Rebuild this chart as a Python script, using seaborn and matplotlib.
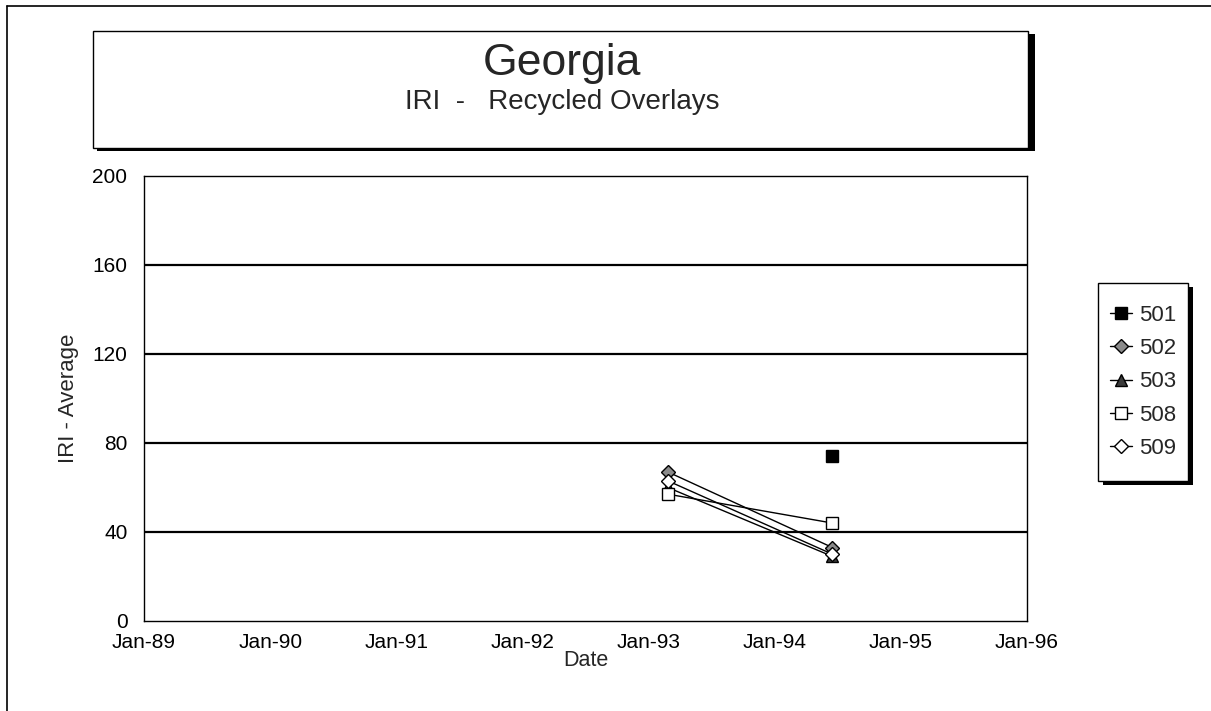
import pandas as pd
import matplotlib.pyplot as plt
import matplotlib.dates as mdates
import seaborn as sns
from matplotlib.patches import Rectangle
from matplotlib.lines import Line2D

plt.switch_backend('Agg')

# dane
sections = ['501', '502', '503', '508', '509']
dates = ['1993-02-25', '1994-06-17']
iri_501 = [None, 74]
iri_502 = [67, 33]
iri_503 = [60, 29]
iri_508 = [57, 44]
iri_509 = [63, 30]

markers = {'501': 's', '502': 'D', '503': '^', '508': 's', '509': 'D'}
faces = {'501': 'black', '502': '#8a8a8a', '503': '#3a3a3a', '508': 'white', '509': 'white'}
sizes = {'501': 9, '502': 7, '503': 9, '508': 9, '509': 7}

rows = []
for name, vals in zip(sections, [iri_501, iri_502, iri_503, iri_508, iri_509]):
    for d, v in zip(dates, vals):
        if v is not None:
            rows.append({'Section': name, 'Date': pd.Timestamp(d), 'IRI': v})
df = pd.DataFrame(rows)

sns.set_style('white')
plt.rcParams['font.family'] = ['Liberation Sans', 'DejaVu Sans']

fig = plt.figure(figsize=(12.11, 7.11), dpi=100)
ax = fig.add_axes([0.119, 0.1266, 0.729, 0.626])

for name in sections:
    sub = df[df['Section'] == name]
    sns.lineplot(data=sub, x='Date', y='IRI', ax=ax, color='black', linewidth=1.0,
                 marker=markers[name], markersize=sizes[name], markerfacecolor=faces[name],
                 markeredgecolor='black', markeredgewidth=1.0, legend=False)

ax.set_xlim(pd.Timestamp('1989-01-01'), pd.Timestamp('1996-01-01'))
ax.set_ylim(0, 200)
ax.set_yticks([0, 40, 80, 120, 160, 200])
ax.xaxis.set_major_locator(mdates.YearLocator())
ax.xaxis.set_major_formatter(mdates.DateFormatter('%b-%y'))
for y in [40, 80, 120, 160]:
    ax.axhline(y, color='black', linewidth=1.6, zorder=0)
for s in ax.spines.values():
    s.set_color('black')
    s.set_linewidth(1.0)
ax.tick_params(axis='both', direction='in', length=5, width=1, colors='black', labelsize=15)
ax.tick_params(axis='x', pad=9)
ax.tick_params(axis='y', pad=12)
ax.set_xlabel('Date', fontsize=15.5, labelpad=-2)
ax.set_ylabel('IRI - Average', fontsize=16, labelpad=10)

# ramka tytułu z cieniem
fig.patches.append(Rectangle((0.0800, 0.788), 0.7750, 0.164, transform=fig.transFigure,
                             facecolor='black', edgecolor='none', zorder=1))
fig.patches.append(Rectangle((0.0768, 0.792), 0.7720, 0.164, transform=fig.transFigure,
                             facecolor='white', edgecolor='black', linewidth=1.0, zorder=2))
fig.text(0.464, 0.911, 'Georgia', ha='center', va='center', fontsize=32, zorder=3)
fig.text(0.464, 0.857, 'IRI  -   Recycled Overlays', ha='center', va='center', fontsize=20, zorder=3)

# ramka strony
fig.add_artist(Line2D([0.0058, 0.0058], [0.0, 0.9916], transform=fig.transFigure, color='black', linewidth=1.2))
fig.add_artist(Line2D([0.0058, 1.0], [0.9916, 0.9916], transform=fig.transFigure, color='black', linewidth=1.2))

# legenda
handles = [Line2D([0], [0], color='black', linewidth=1.0, marker=markers[n], markersize=sizes[n],
                  markerfacecolor=faces[n], markeredgecolor='black') for n in sections]
lx, ly, lw, lh = 0.9067, 0.3235, 0.0745, 0.2785
fig.patches.append(Rectangle((lx + 0.004, ly - 0.006), lw, lh, transform=fig.transFigure,
                             facecolor='black', edgecolor='none', zorder=1))
fig.patches.append(Rectangle((lx, ly), lw, lh, transform=fig.transFigure,
                             facecolor='white', edgecolor='black', linewidth=1.0, zorder=2))
leg = fig.legend(handles, sections, loc='center', bbox_to_anchor=(lx + lw / 2, ly + lh / 2),
                 frameon=False, fontsize=16, handlelength=1.0, handletextpad=0.3,
                 labelspacing=0.55)

fig.savefig('out.png', dpi=100, facecolor='white')
